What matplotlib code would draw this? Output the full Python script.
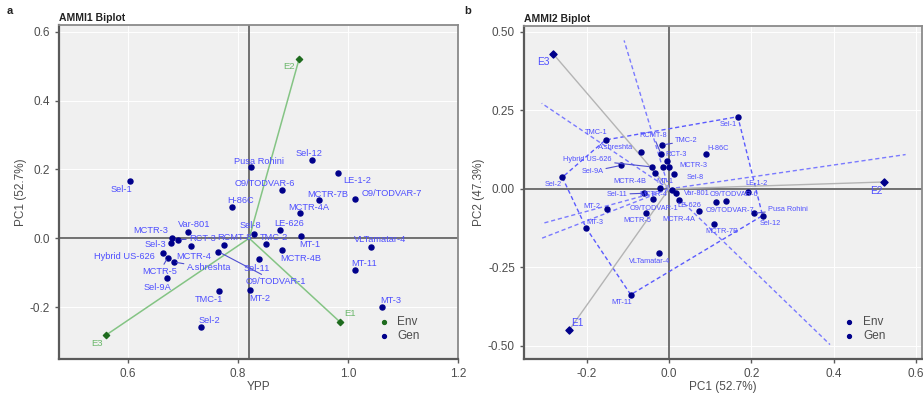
import numpy as np
import matplotlib
matplotlib.use("Agg")
import matplotlib.pyplot as plt

plt.rcParams['font.family'] = ['Liberation Sans', 'DejaVu Sans']

# ---------------- data ----------------
genotypes = ["Sel-1", "Pusa Rohini", "Sel-12", "LE-1-2", "O9/TODVAR-6", "O9/TODVAR-7",
             "MCTR-7B", "MCTR-4A", "H-86C", "LE-626", "Sel-8", "MT-1", "TMC-2", "RCMT-8",
             "MCTR-4B", "VLTamatar-4", "Sel-11", "MT-11", "O9/TODVAR-1", "MT-2", "TMC-1",
             "Sel-2", "MT-3", "Var-801", "MCTR-3", "RCT-3", "Sel-3", "MCTR-4",
             "Hybrid US-626", "MCTR-5", "A.shreshta", "Sel-9A"]
gen_ypp = [0.604, 0.823, 0.935, 0.982, 0.880, 1.012,
           0.947, 0.913, 0.789, 0.877, 0.829, 0.915, 0.850, 0.774,
           0.879, 1.042, 0.837, 1.013, 0.764, 0.822, 0.765,
           0.733, 1.062, 0.709, 0.680, 0.691, 0.678, 0.714,
           0.663, 0.672, 0.683, 0.671]
gen_pc1 = [0.167, 0.206, 0.227, 0.191, 0.139, 0.115,
           0.110, 0.072, 0.090, 0.023, 0.012, 0.007, -0.016, -0.019,
           -0.033, -0.024, -0.061, -0.093, -0.039, -0.150, -0.154,
           -0.259, -0.201, 0.018, 0.001, -0.004, -0.015, -0.023,
           -0.042, -0.056, -0.069, -0.116]
gen_pc2 = [0.230, -0.078, -0.085, -0.010, -0.038, -0.042,
           -0.111, -0.072, 0.110, -0.035, 0.048, -0.003, 0.140, 0.110,
           0.051, -0.205, -0.014, -0.337, -0.033, -0.064, 0.156,
           0.037, -0.125, -0.014, 0.069, 0.088, 0.069, 0.002,
           0.070, -0.077, 0.119, 0.075]

environments = ["E1", "E2", "E3"]
env_ypp = [0.985, 0.911, 0.560]
env_pc1 = [-0.243, 0.522, -0.281]
env_pc2 = [-0.451, 0.022, 0.430]
grand_mean = 0.820

pc1_pct = 52.7
pc2_pct = 47.3

# ---------------- label placement (pixels) ----------------
off1 = {"Sel-1": (-9, -9), "Pusa Rohini": (8, 6), "Sel-12": (-3, 7), "LE-1-2": (19, -8),
        "O9/TODVAR-6": (-17, 7), "MCTR-7B": (9, 6), "O9/TODVAR-7": (37, 5),
        "MCTR-4A": (8, 6), "H-86C": (9, 7), "Sel-8": (-4, 9), "LE-626": (9, 7),
        "Var-801": (6, 8), "MCTR-3": (-22, 7), "RCT-3": (24, 1), "RCMT-8": (11, 7),
        "TMC-2": (8, 6), "MT-1": (8, -9), "VLTamatar-4": (9, 7), "Sel-3": (-16, -1),
        "MCTR-4": (3, -10), "MCTR-4B": (19, -9), "Hybrid US-626": (-38, -4),
        "A.shreshta": (35, -6), "Sel-11": (-2, -9), "MT-11": (9, 7), "MCTR-5": (-8, -14),
        "O9/TODVAR-1": (57, -30), "Sel-9A": (-10, -9), "TMC-1": (-10, -8),
        "MT-2": (9, -9), "MT-3": (9, 7), "Sel-2": (8, 7),
        "E1": (10, 8), "E2": (-10, -8), "E3": (-9, -9)}
seg1 = {"RCT-3", "A.shreshta", "MCTR-5", "O9/TODVAR-1"}

off2 = {"Sel-1": (-10, -8), "TMC-1": (-9, 7), "RCMT-8": (-8, 19), "TMC-2": (24, 4),
        "A.shreshta": (-25, 4), "RCT-3": (9, 7), "H-86C": (12, 6),
        "Hybrid US-626": (-64, 7), "MCTR-3": (24, 2), "Sel-9A": (-29, -6),
        "Sel-8": (21, -4), "MCTR-4B": (-26, -9), "MT-1": (-7, 8), "Sel-2": (-9, -7),
        "LE-1-2": (9, 9), "Sel-11": (-27, -1), "MCTR-4": (-6, -6), "Var-801": (20, 0),
        "O9/TODVAR-6": (8, 6), "MT-2": (-15, 2), "O9/TODVAR-1": (1, -9),
        "LE-626": (11, -6), "O9/TODVAR-7": (14, -8), "Pusa Rohini": (34, 4),
        "MT-3": (9, 6), "MCTR-5": (-9, -7), "MCTR-4A": (-20, -8), "Sel-12": (8, -8),
        "MCTR-7B": (8, -8), "VLTamatar-4": (-9, -8), "MT-11": (-9, -8), "Sel-3": (0, 0),
        "E1": (8, 7), "E2": (-8, -9), "E3": (-10, -8)}
seg2 = {"TMC-2", "Hybrid US-626", "Sel-9A", "Sel-11", "Pusa Rohini", "RCMT-8"}

# ---------------- styling ----------------
GEN_COL = "#00008b"
LAB_COL = "#4f4fff"
ENV_GREEN = "#1e6b1e"
ENV_LAB_GREEN = "#6cb86c"
ENV_LINE_GREEN = "#84c484"
BG = "#f0f0f0"
AX_COL = "#5a5a5a"
TXT_COL = "#4d4d4d"

fig = plt.figure(figsize=(9.23, 3.95), dpi=100)
W, H = 923, 395


def make_ax(l, r, t, b):
    return fig.add_axes([l / W, 1 - b / H, (r - l) / W, (b - t) / H])


def style(ax):
    ax.set_facecolor(BG)
    ax.grid(True, color="white", lw=0.7)
    ax.set_axisbelow(True)
    for s in ax.spines.values():
        s.set_color("#8a8a8a")
        s.set_linewidth(1.3)
    ax.spines["left"].set_color(AX_COL)
    ax.spines["bottom"].set_color(AX_COL)
    ax.spines["left"].set_linewidth(1.6)
    ax.spines["bottom"].set_linewidth(1.6)
    ax.tick_params(colors=AX_COL, labelcolor=TXT_COL, labelsize=8.5, length=3, width=1)


# ================= Panel a: AMMI1 =================
ax1 = make_ax(59, 458, 25, 359)
style(ax1)
ax1.set_xlim(0.474, 1.2)
ax1.set_ylim(-0.351, 0.62)
ax1.set_xticks([0.6, 0.8, 1.0, 1.2])
ax1.set_xticklabels(["0.6", "0.8", "1.0", "1.2"])
ax1.set_yticks([-0.2, 0.0, 0.2, 0.4, 0.6])
ax1.set_yticklabels(["-0.2", "0.0", "0.2", "0.4", "0.6"])
ax1.axvline(grand_mean, color=AX_COL, lw=1.2, zorder=1)
ax1.axhline(0, color=AX_COL, lw=1.2, zorder=1)

for ex, ey in zip(env_ypp, env_pc1):
    ax1.plot([grand_mean, ex], [0, ey], color=ENV_LINE_GREEN, lw=1.1, zorder=2)
ax1.scatter(env_ypp, env_pc1, marker="D", s=10, color=ENV_GREEN, zorder=4)
ax1.scatter(gen_ypp, gen_pc1, s=13, color=GEN_COL, zorder=4)

for name, x, y in zip(genotypes, gen_ypp, gen_pc1):
    dx, dy = off1[name]
    ap = dict(arrowstyle="-", color="#4f4fd0", lw=0.8, shrinkA=0, shrinkB=2) if name in seg1 else None
    ax1.annotate(name, (x, y), xytext=(dx, dy), textcoords="offset pixels",
                 ha="center", va="center", fontsize=6.7, color=LAB_COL,
                 arrowprops=ap, zorder=5)
for name, x, y in zip(environments, env_ypp, env_pc1):
    dx, dy = off1[name]
    ax1.annotate(name, (x, y), xytext=(dx, dy), textcoords="offset pixels",
                 ha="center", va="center", fontsize=6.8, color=ENV_LAB_GREEN, zorder=5)

ax1.set_xlabel("YPP", fontsize=8.5, color=TXT_COL, labelpad=1)
ax1.set_ylabel(f"PC1 ({pc1_pct}%)", fontsize=8.5, color=TXT_COL, labelpad=2)
ax1.set_title("AMMI1 Biplot", fontsize=7.5, fontweight="bold", loc="left", pad=3, color="#222222")

# legend
lx, ly = 384, 322
fig.lines.append(plt.Line2D([lx / W], [1 - ly / H], marker="o", ms=2.8, color=ENV_GREEN,
                            transform=fig.transFigure))
fig.lines.append(plt.Line2D([lx / W], [1 - (ly + 14) / H], marker="o", ms=2.8, color=GEN_COL,
                            transform=fig.transFigure))
fig.text((lx + 13) / W, 1 - ly / H, "Env", fontsize=8.5, color=TXT_COL, va="center")
fig.text((lx + 13) / W, 1 - (ly + 14) / H, "Gen", fontsize=8.5, color=TXT_COL, va="center")

# ================= Panel b: AMMI2 =================
ax2 = make_ax(524, 922, 26, 359)
style(ax2)
ax2.set_xlim(-0.352, 0.614)
ax2.set_ylim(-0.542, 0.519)
ax2.set_xticks([-0.2, 0.0, 0.2, 0.4, 0.6])
ax2.set_xticklabels(["-0.2", "0.0", "0.2", "0.4", "0.6"])
ax2.set_yticks([-0.5, -0.25, 0.0, 0.25, 0.5])
ax2.set_yticklabels(["-0.50", "-0.25", "0.00", "0.25", "0.50"])
ax2.axvline(0, color=AX_COL, lw=1.2, zorder=1)
ax2.axhline(0, color=AX_COL, lw=1.2, zorder=1)

gx = np.array(gen_pc1)
gy = np.array(gen_pc2)
allx = np.concatenate([gx, env_pc1])
ally = np.concatenate([gy, env_pc2])
xmin, xmax = 1.1 * allx.min(), 1.1 * allx.max()
ymin, ymax = 1.1 * ally.min(), 1.1 * ally.max()


def convex_hull(pts):
    pts = sorted(set(pts))

    def cross(o, a, b):
        return (a[0] - o[0]) * (b[1] - o[1]) - (a[1] - o[1]) * (b[0] - o[0])
    lower, upper = [], []
    for p in pts:
        while len(lower) >= 2 and cross(lower[-2], lower[-1], p) <= 0:
            lower.pop()
        lower.append(p)
    for p in reversed(pts):
        while len(upper) >= 2 and cross(upper[-2], upper[-1], p) <= 0:
            upper.pop()
        upper.append(p)
    return lower[:-1] + upper[:-1]


hull = convex_hull(list(zip(gx, gy)))
hx = [p[0] for p in hull] + [hull[0][0]]
hy = [p[1] for p in hull] + [hull[0][1]]
ax2.plot(hx, hy, color="#5a5aff", lw=1.0, ls=(0, (3, 2)), zorder=2)

for i in range(len(hull)):
    p, q = np.array(hull[i]), np.array(hull[(i + 1) % len(hull)])
    d = q - p
    n = np.array([d[1], -d[0]])
    if np.dot(n, (p + q) / 2) < 0:
        n = -n
    ts = []
    if n[0] > 0: ts.append(xmax / n[0])
    if n[0] < 0: ts.append(xmin / n[0])
    if n[1] > 0: ts.append(ymax / n[1])
    if n[1] < 0: ts.append(ymin / n[1])
    t = min(ts)
    ax2.plot([0, n[0] * t], [0, n[1] * t], color="#7a7aff", lw=1.0, ls=(0, (3, 2)), zorder=2)

for ex, ey in zip(env_pc1, env_pc2):
    ax2.plot([0, ex], [0, ey], color="#b4b4b4", lw=1.0, zorder=2)
ax2.scatter(env_pc1, env_pc2, marker="D", s=13, color=GEN_COL, zorder=4)
ax2.scatter(gx, gy, s=13, color=GEN_COL, zorder=4)

for name, x, y in zip(genotypes, gen_pc1, gen_pc2):
    if name == "Sel-3":
        continue
    dx, dy = off2[name]
    ap = dict(arrowstyle="-", color="#4f4fd0", lw=0.8, shrinkA=0, shrinkB=2) if name in seg2 else None
    ax2.annotate(name, (x, y), xytext=(dx, dy), textcoords="offset pixels",
                 ha="center", va="center", fontsize=5.3, color=LAB_COL,
                 arrowprops=ap, zorder=5)
for name, x, y in zip(environments, env_pc1, env_pc2):
    dx, dy = off2[name]
    ax2.annotate(name, (x, y), xytext=(dx, dy), textcoords="offset pixels",
                 ha="center", va="center", fontsize=7.3, color=LAB_COL, zorder=5)

ax2.set_xlabel(f"PC1 ({pc1_pct}%)", fontsize=8.5, color=TXT_COL, labelpad=1)
ax2.set_ylabel(f"PC2 ({pc2_pct}%)", fontsize=8.5, color=TXT_COL, labelpad=2)
ax2.set_title("AMMI2 Biplot", fontsize=7.5, fontweight="bold", loc="left", pad=3, color="#222222")

lx2 = 849
fig.lines.append(plt.Line2D([lx2 / W], [1 - ly / H], marker="o", ms=2.8, color=GEN_COL,
                            transform=fig.transFigure))
fig.lines.append(plt.Line2D([lx2 / W], [1 - (ly + 14) / H], marker="o", ms=2.8, color=GEN_COL,
                            transform=fig.transFigure))
fig.text((lx2 + 14) / W, 1 - ly / H, "Env", fontsize=8.5, color=TXT_COL, va="center")
fig.text((lx2 + 14) / W, 1 - (ly + 14) / H, "Gen", fontsize=8.5, color=TXT_COL, va="center")

fig.text(7 / W, 1 - 11 / H, "a", fontsize=8, fontweight="bold", color="#222222", va="center")
fig.text(464 / W, 1 - 11 / H, "b", fontsize=8, fontweight="bold", color="#222222", va="center")

fig.savefig("out.png", dpi=100)
